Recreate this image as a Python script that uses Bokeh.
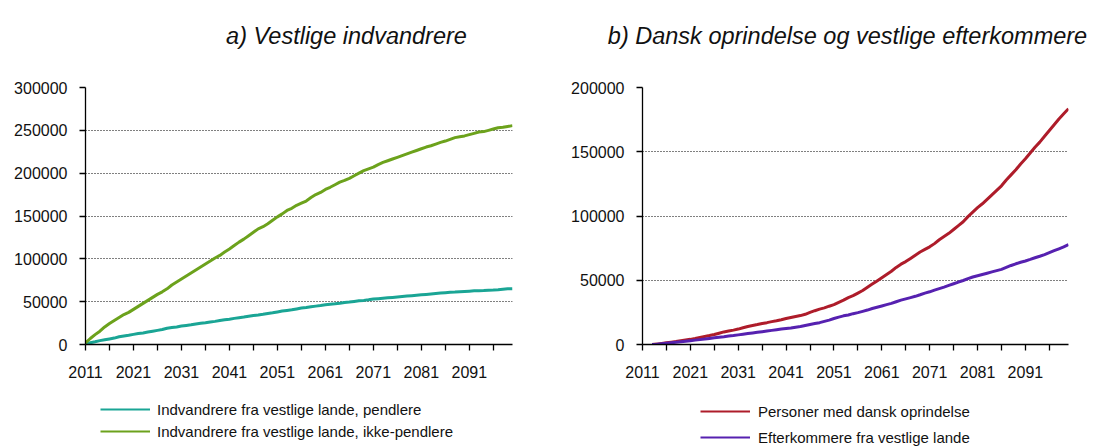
from bokeh.plotting import figure
from bokeh.models import Legend, LegendItem, Label, FixedTicker, NumeralTickFormatter, Range1d
from bokeh.layouts import row, column
from bokeh.embed import file_html
from bokeh.resources import INLINE

# ---------------- data ----------------
years_a = list(range(2011, 2101))
pendlere = [0, 2000, 3200, 4500, 5500, 6500, 7500, 9000, 10000, 10800,
            11800, 12800, 13500, 14500, 15500, 16500, 17500, 19000, 19800, 20500,
            21500, 22300, 23000, 24000, 24800, 25500, 26300, 27000, 28000, 28800,
            29500, 30500, 31300, 32000, 33000, 33800, 34500, 35300, 36300, 37000,
            38000, 39000, 39800, 40500, 41500, 42500, 43200, 44000, 44800, 45500,
            46300, 47000, 47500, 48200, 49000, 49500, 50300, 51000, 51500, 52200,
            53000, 53500, 54000, 54500, 55000, 55500, 56000, 56500, 57000, 57500,
            58000, 58500, 59000, 59500, 60000, 60500, 61000, 61300, 61700, 62000,
            62300, 62600, 62800, 63000, 63300, 63600, 64000, 64500, 65000, 65200]
ikke_pendlere = [2000, 7000, 11500, 15500, 20500, 24500, 28000, 31500, 35000, 37500,
                 41000, 44500, 48000, 51500, 55000, 58500, 61500, 65000, 69500, 73000,
                 76500, 80000, 83500, 87000, 90500, 94000, 97500, 101000, 104000, 108000,
                 111500, 115500, 119500, 123000, 127000, 131000, 135000, 137500, 141000, 145000,
                 149000, 152500, 156500, 159000, 162500, 165000, 167500, 171500, 175000, 177500,
                 181000, 183500, 186500, 189500, 191500, 194000, 197000, 200000, 203000, 205000,
                 207000, 210000, 212500, 214500, 216500, 218500, 220500, 222500, 224500, 226500,
                 228500, 230500, 232000, 234000, 236000, 237500, 239500, 241500, 242500, 243500,
                 245000, 246500, 248000, 248500, 250000, 251500, 253000, 253500, 254500, 255500]

years_b = list(range(2013, 2101))
dansk = [0, 300, 800, 1300, 1800, 2300, 3000, 3500, 4000, 4700,
         5500, 6300, 7000, 7800, 8800, 9800, 10500, 11200, 12000, 13000,
         14000, 14800, 15500, 16300, 17000, 17800, 18500, 19300, 20200, 21000,
         21800, 22500, 23500, 25000, 26300, 27500, 28500, 29800, 31000, 32800,
         34500, 36500, 38000, 40000, 42000, 44500, 47000, 49500, 52000, 54500,
         57000, 60000, 62500, 64500, 67000, 69500, 72000, 74000, 76000, 78500,
         81500, 84000, 86500, 89500, 92500, 95500, 99500, 103000, 106500, 109500,
         113000, 116500, 120000, 123500, 128000, 132000, 136000, 140500, 144500, 149000,
         153500, 157500, 162000, 166500, 171000, 175500, 179500, 183500]
efterkommere = [0, 200, 600, 1000, 1400, 1800, 2200, 2600, 3000, 3400,
                3800, 4200, 4700, 5200, 5700, 6100, 6600, 7000, 7500, 8000,
                8500, 9000, 9500, 10000, 10500, 11000, 11500, 12000, 12400, 12800,
                13500, 14000, 14800, 15600, 16300, 17000, 18000, 19000, 20200, 21300,
                22300, 23000, 24000, 24800, 25800, 26800, 28000, 29000, 30000, 31000,
                32000, 33300, 34500, 35500, 36500, 37500, 38700, 40000, 41000, 42300,
                43500, 44700, 46000, 47300, 48600, 49800, 51200, 52500, 53500, 54500,
                55500, 56500, 57500, 58500, 60000, 61500, 62800, 64000, 65000, 66200,
                67500, 68700, 70000, 71500, 73000, 74500, 76000, 77800]

x_ticks = list(range(2011, 2100, 5))
x_labels = {t: (str(t) if (t - 2011) % 10 == 0 else "") for t in x_ticks}
y_ticks_a = [0, 50000, 100000, 150000, 200000, 250000, 300000]
y_ticks_b = [0, 50000, 100000, 150000, 200000]

title_a = "a) Vestlige indvandrere"
title_b = "b) Dansk oprindelse og vestlige efterkommere"
labels_a = ["Indvandrere fra vestlige lande, pendlere", "Indvandrere fra vestlige lande, ikke-pendlere"]
labels_b = ["Personer med dansk oprindelse", "Efterkommere fra vestlige lande"]

C_TEAL = "#1aa595"
C_GREEN = "#6ca21c"
C_RED = "#ae1c2a"
C_PURPLE = "#5621b0"

FONT = "Liberation Sans"
W = 1094
TITLE_H = 50
LEG_H = 58


def blank_fig(width, height, xr, yr, left=0):
    f = figure(width=width, height=height, output_backend="svg", toolbar_location=None,
               x_range=Range1d(*xr), y_range=Range1d(*yr),
               x_axis_location=None, y_axis_location=None,
               min_border_left=left, min_border_right=0, min_border_top=0, min_border_bottom=0)
    f.grid.visible = False
    f.outline_line_color = None
    f.background_fill_color = "white"
    f.border_fill_color = "white"
    return f


def style(p, yticks):
    p.outline_line_color = None
    p.background_fill_color = "white"
    p.border_fill_color = "white"
    for ax in (p.xaxis[0], p.yaxis[0]):
        ax.axis_line_color = "black"
        ax.axis_line_width = 1.3
        ax.major_tick_line_color = "black"
        ax.major_tick_line_width = 1.3
        ax.major_tick_out = 6
        ax.major_tick_in = 0
        ax.minor_tick_line_color = None
        ax.major_label_text_font = FONT
        ax.major_label_text_font_size = "16px"
        ax.major_label_text_color = "#111111"
    p.xaxis[0].ticker = FixedTicker(ticks=x_ticks)
    p.xaxis[0].major_label_overrides = x_labels
    p.xaxis[0].major_label_standoff = 15
    p.yaxis[0].ticker = FixedTicker(ticks=yticks)
    p.yaxis[0].formatter = NumeralTickFormatter(format="0")
    p.yaxis[0].major_label_standoff = 12
    p.xgrid.grid_line_color = None
    p.ygrid.grid_line_color = "black"
    p.ygrid.grid_line_dash = "1 2"
    p.ygrid.grid_line_width = 1.2


# ---------------- title strip ----------------
tfig = blank_fig(W, TITLE_H, (0, W), (TITLE_H, 0))
tfig.add_layout(Label(x=346, y=35, text=title_a, text_font=FONT, text_font_style="italic",
                      text_font_size="23.5px", text_align="center", text_baseline="alphabetic",
                      text_color="#111111"))
tfig.add_layout(Label(x=847, y=35, text=title_b, text_font=FONT, text_font_style="italic",
                      text_font_size="23.5px", text_align="center", text_baseline="alphabetic",
                      text_color="#111111"))

# ---------------- left panel ----------------
pa = figure(width=547, height=339, output_backend="svg", toolbar_location=None,
            x_range=Range1d(2011, 2100), y_range=Range1d(0, 300000),
            min_border_left=85, min_border_right=35, min_border_top=36, min_border_bottom=45)
style(pa, y_ticks_a)
pa.line(years_a, pendlere, line_color=C_TEAL, line_width=3)
pa.line(years_a, ikke_pendlere, line_color=C_GREEN, line_width=3)

# ---------------- right panel ----------------
pb = figure(width=547, height=339, output_backend="svg", toolbar_location=None,
            x_range=Range1d(2011, 2100), y_range=Range1d(0, 200000),
            min_border_left=95, min_border_right=26, min_border_top=37, min_border_bottom=44)
style(pb, y_ticks_b)
pb.line(years_b, dansk, line_color=C_RED, line_width=3)
pb.line(years_b, efterkommere, line_color=C_PURPLE, line_width=3)


# ---------------- legends ----------------
def legend_fig(left, labels, colors, pitch, standoff):
    f = blank_fig(547, LEG_H, (0, 1), (0, 1), left=left)
    # off-range samples: only the legend shows these styles
    rs = [f.line(x=[-5, -4], y=[-5, -5], line_color=c, line_width=2) for c in colors]
    leg = Legend(items=[LegendItem(label=l, renderers=[r]) for l, r in zip(labels, rs)],
                 location="top_left", glyph_width=50, glyph_height=pitch - 2,
                 label_height=pitch - 2, spacing=2, padding=0, margin=10,
                 label_standoff=standoff, label_text_font=FONT, label_text_font_size="15px",
                 label_text_color="#111111", border_line_color=None, background_fill_alpha=0)
    f.add_layout(leg, "center")
    return f


la = legend_fig(90, labels_a, [C_TEAL, C_GREEN], 22, 7)
lb = legend_fig(143, labels_b, [C_RED, C_PURPLE], 26, 8)

layout = column(tfig, row(pa, pb, spacing=0), row(la, lb, spacing=0), spacing=0)
open("out.html", "w").write(file_html(layout, INLINE))
